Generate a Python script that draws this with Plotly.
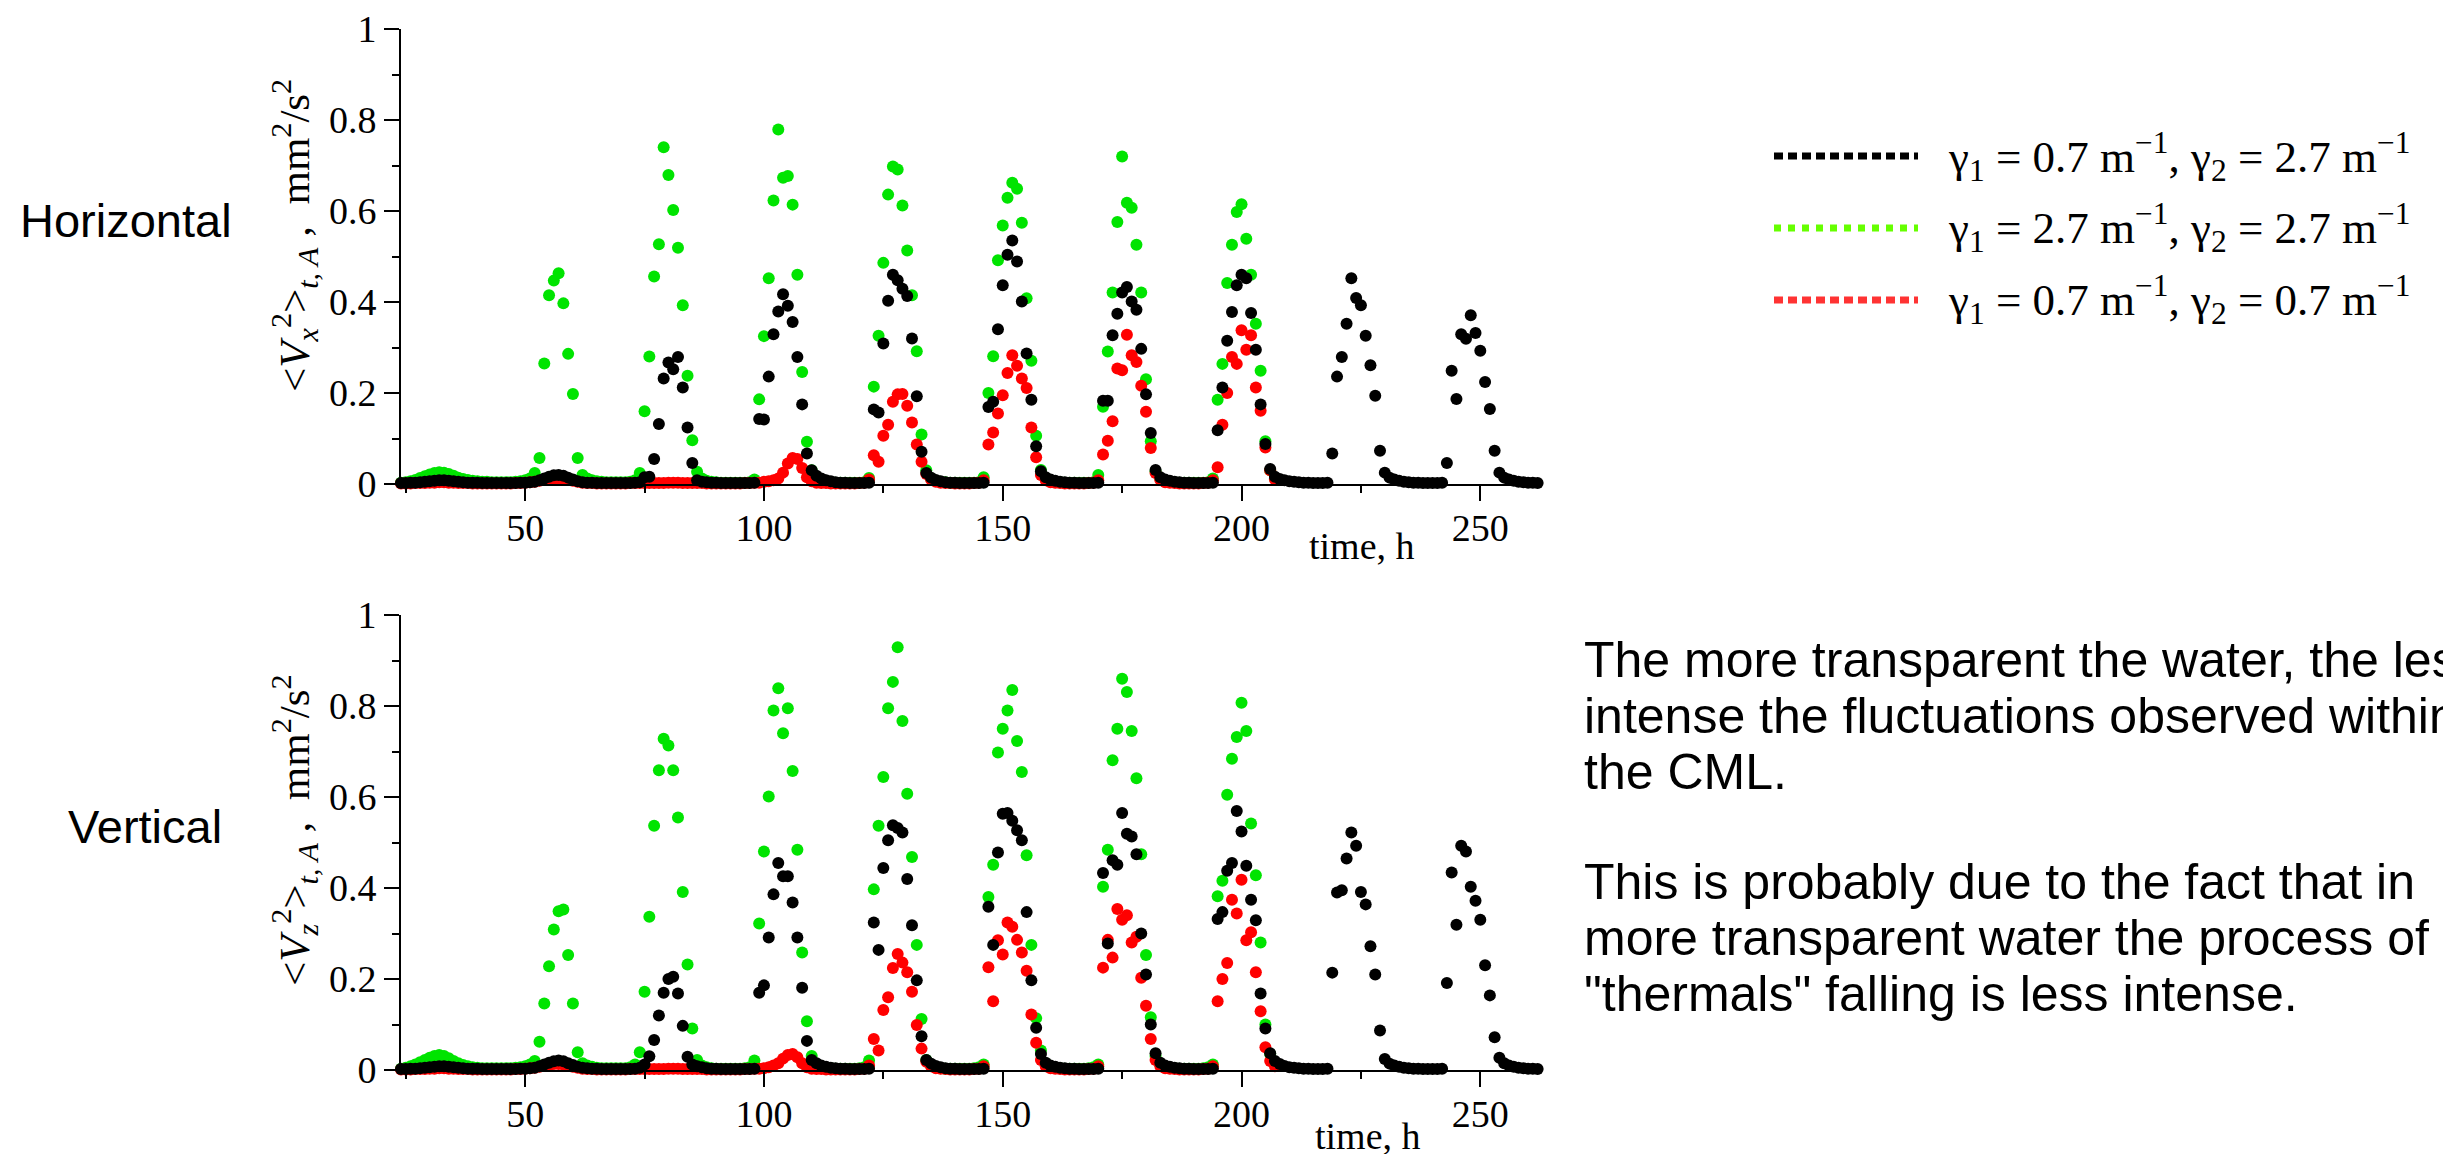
import plotly.graph_objects as go

W, H = 2451, 1154
T_START = 24  # first hourly sample (h)

# ---------------- Horizontal fluctuations <Vx^2> (hourly from t = 24 h) ----------------
H_black = [
    0.002, 0.002, 0.003, 0.003, 0.004, 0.005,
    0.006, 0.007, 0.008, 0.008, 0.007, 0.006, 0.005,
    0.004, 0.003, 0.003, 0.003, 0.002, 0.002, 0.002, 0.002, 0.002, 0.002, 0.002, 0.002, 0.003, 0.003, 0.004,
    0.005, 0.008, 0.012, 0.016, 0.019, 0.020, 0.018, 0.014, 0.010, 0.006, 0.004,
    0.003, 0.003, 0.002, 0.002, 0.002, 0.002, 0.002, 0.002, 0.002, 0.002, 0.003, 0.004,
    0.015, 0.016, 0.055, 0.132, 0.232, 0.267, 0.252, 0.279, 0.212, 0.124, 0.046, 0.008,
    0.005, 0.004, 0.003, 0.003, 0.002, 0.002, 0.002, 0.002, 0.002, 0.002, 0.002, 0.003,
    0.143, 0.142, 0.236, 0.329, 0.379, 0.417, 0.392, 0.356, 0.279, 0.175, 0.067, 0.030,
    0.018, 0.012, 0.008, 0.006, 0.004, 0.003, 0.003, 0.002, 0.002, 0.002, 0.002, 0.003,
    0.164, 0.157, 0.309, 0.403, 0.460, 0.448, 0.429, 0.413, 0.320, 0.193, 0.071, 0.024, 0.014,
    0.009, 0.006, 0.004, 0.003, 0.003, 0.002, 0.002, 0.002, 0.002, 0.002, 0.003,
    0.169, 0.181, 0.340, 0.437, 0.504, 0.535, 0.489, 0.401, 0.287, 0.185, 0.083, 0.028, 0.015,
    0.010, 0.007, 0.005, 0.004, 0.003, 0.003, 0.002, 0.002, 0.002, 0.002, 0.003,
    0.183, 0.183, 0.327, 0.374, 0.421, 0.433, 0.401, 0.383, 0.297, 0.197, 0.112, 0.031, 0.015,
    0.010, 0.007, 0.005, 0.004, 0.003, 0.003, 0.002, 0.002, 0.002, 0.002, 0.003,
    0.118, 0.212, 0.315, 0.378, 0.437, 0.460, 0.452, 0.376, 0.295, 0.175, 0.088, 0.033, 0.016,
    0.011, 0.008, 0.006, 0.005, 0.004, 0.003, 0.003, 0.002, 0.002, 0.002, 0.003,
    0.067, 0.236, 0.279, 0.352, 0.452, 0.409, 0.393, 0.326, 0.261, 0.194, 0.073, 0.025, 0.014,
    0.010, 0.007, 0.005, 0.004, 0.003, 0.003, 0.002, 0.002, 0.002, 0.002, 0.003,
    0.046, 0.249, 0.187, 0.329, 0.319, 0.371, 0.332, 0.293, 0.224, 0.165, 0.073, 0.025, 0.014,
    0.010, 0.007, 0.005, 0.004, 0.003, 0.003, 0.002,
]
H_green = [
    0.003, 0.004, 0.006, 0.009, 0.013, 0.017,
    0.021, 0.024, 0.026, 0.025, 0.022, 0.018, 0.014,
    0.011, 0.009, 0.007, 0.006, 0.005, 0.005, 0.004, 0.004, 0.004, 0.004, 0.004, 0.005, 0.006, 0.008, 0.012,
    0.024, 0.057, 0.265, 0.415, 0.447, 0.463, 0.397, 0.286, 0.198, 0.057, 0.020,
    0.012, 0.008, 0.006, 0.005, 0.004, 0.004, 0.004, 0.004, 0.004, 0.005, 0.008, 0.024,
    0.160, 0.280, 0.456, 0.527, 0.740, 0.679, 0.602, 0.519, 0.393, 0.238, 0.096, 0.027,
    0.012, 0.007, 0.005, 0.004, 0.003, 0.003, 0.003, 0.003, 0.003, 0.003, 0.004, 0.010,
    0.186, 0.325, 0.452, 0.623, 0.779, 0.673, 0.677, 0.614, 0.460, 0.246, 0.093, 0.030,
    0.013, 0.008, 0.005, 0.004, 0.003, 0.003, 0.003, 0.003, 0.003, 0.003, 0.004, 0.013,
    0.214, 0.326, 0.486, 0.636, 0.698, 0.691, 0.612, 0.513, 0.415, 0.292, 0.109, 0.030, 0.012,
    0.007, 0.005, 0.004, 0.003, 0.003, 0.003, 0.003, 0.003, 0.003, 0.004, 0.015,
    0.200, 0.281, 0.492, 0.568, 0.629, 0.662, 0.649, 0.574, 0.408, 0.271, 0.106, 0.031, 0.013,
    0.008, 0.005, 0.004, 0.003, 0.003, 0.003, 0.003, 0.003, 0.003, 0.004, 0.020,
    0.170, 0.291, 0.421, 0.576, 0.720, 0.618, 0.607, 0.526, 0.421, 0.230, 0.094, 0.028, 0.012,
    0.007, 0.005, 0.004, 0.003, 0.003, 0.003, 0.003, 0.003, 0.003, 0.004, 0.012,
    0.185, 0.264, 0.442, 0.526, 0.598, 0.615, 0.539, 0.460, 0.352, 0.249, 0.094, 0.030, 0.012,
]
H_red = [
    0.001, 0.001, 0.001, 0.002, 0.002, 0.002,
    0.003, 0.003, 0.004, 0.004, 0.003, 0.003, 0.002,
    0.002, 0.002, 0.001, 0.001, 0.001, 0.001, 0.001, 0.001, 0.001, 0.001, 0.001, 0.002, 0.002, 0.003, 0.004,
    0.005, 0.007, 0.009, 0.011, 0.012, 0.012, 0.011, 0.009, 0.007, 0.005, 0.003,
    0.002, 0.002, 0.001, 0.001, 0.001, 0.001, 0.001, 0.001, 0.001, 0.002, 0.002, 0.002,
    0.002, 0.002, 0.002, 0.002, 0.002, 0.003, 0.003, 0.003, 0.002, 0.002, 0.002, 0.002,
    0.002, 0.001, 0.001, 0.001, 0.001, 0.001, 0.001, 0.001, 0.001, 0.002, 0.002, 0.003,
    0.003, 0.005, 0.006, 0.008, 0.012, 0.025, 0.045, 0.057, 0.055, 0.035, 0.015, 0.006,
    0.003, 0.002, 0.002, 0.001, 0.001, 0.001, 0.001, 0.001, 0.001, 0.002, 0.003, 0.010,
    0.063, 0.049, 0.106, 0.130, 0.181, 0.197, 0.198, 0.172, 0.135, 0.087, 0.049, 0.022, 0.010,
    0.005, 0.003, 0.002, 0.002, 0.001, 0.001, 0.001, 0.001, 0.002, 0.003, 0.008,
    0.087, 0.113, 0.155, 0.195, 0.244, 0.283, 0.260, 0.232, 0.211, 0.124, 0.059, 0.020, 0.008,
    0.004, 0.003, 0.002, 0.001, 0.001, 0.001, 0.001, 0.001, 0.002, 0.003, 0.008,
    0.065, 0.095, 0.138, 0.254, 0.250, 0.328, 0.283, 0.268, 0.216, 0.159, 0.079, 0.024, 0.009,
    0.004, 0.003, 0.002, 0.001, 0.001, 0.001, 0.001, 0.001, 0.002, 0.003, 0.008,
    0.037, 0.130, 0.200, 0.279, 0.264, 0.338, 0.295, 0.327, 0.212, 0.161, 0.080, 0.030, 0.010,
]

# ---------------- Vertical fluctuations <Vz^2> (hourly from t = 24 h) ----------------
V_black = [
    0.002, 0.002, 0.003, 0.003, 0.004, 0.005,
    0.006, 0.007, 0.008, 0.008, 0.007, 0.006, 0.005,
    0.004, 0.003, 0.003, 0.003, 0.002, 0.002, 0.002, 0.002, 0.002, 0.002, 0.002, 0.002, 0.003, 0.003, 0.004,
    0.005, 0.008, 0.012, 0.016, 0.019, 0.021, 0.019, 0.015, 0.011, 0.007, 0.005,
    0.004, 0.003, 0.003, 0.002, 0.002, 0.002, 0.002, 0.002, 0.002, 0.002, 0.003, 0.005,
    0.012, 0.030, 0.066, 0.120, 0.170, 0.200, 0.205, 0.168, 0.097, 0.029, 0.012, 0.008,
    0.006, 0.004, 0.003, 0.003, 0.002, 0.002, 0.002, 0.002, 0.002, 0.002, 0.002, 0.003,
    0.170, 0.186, 0.291, 0.386, 0.455, 0.426, 0.426, 0.368, 0.291, 0.181, 0.064, 0.022,
    0.015, 0.010, 0.007, 0.005, 0.004, 0.003, 0.003, 0.002, 0.002, 0.002, 0.002, 0.003,
    0.324, 0.264, 0.444, 0.505, 0.538, 0.532, 0.522, 0.420, 0.318, 0.197, 0.074, 0.022, 0.014,
    0.009, 0.006, 0.004, 0.003, 0.003, 0.002, 0.002, 0.002, 0.002, 0.002, 0.003,
    0.359, 0.275, 0.478, 0.563, 0.565, 0.548, 0.527, 0.505, 0.347, 0.197, 0.093, 0.035, 0.016,
    0.010, 0.007, 0.005, 0.004, 0.003, 0.003, 0.002, 0.002, 0.002, 0.002, 0.003,
    0.433, 0.278, 0.461, 0.451, 0.565, 0.519, 0.513, 0.474, 0.300, 0.210, 0.100, 0.037, 0.016,
    0.010, 0.007, 0.005, 0.004, 0.003, 0.003, 0.002, 0.002, 0.002, 0.002, 0.003,
    0.332, 0.347, 0.438, 0.455, 0.569, 0.524, 0.449, 0.374, 0.329, 0.168, 0.091, 0.037, 0.020,
    0.013, 0.009, 0.006, 0.005, 0.004, 0.003, 0.003, 0.002, 0.002, 0.002, 0.003,
    0.214, 0.390, 0.395, 0.465, 0.522, 0.493, 0.391, 0.364, 0.272, 0.210, 0.087, 0.024, 0.014,
    0.010, 0.007, 0.005, 0.004, 0.003, 0.003, 0.002, 0.002, 0.002, 0.002, 0.003,
    0.191, 0.434, 0.319, 0.493, 0.480, 0.403, 0.372, 0.330, 0.230, 0.164, 0.072, 0.027, 0.015,
    0.010, 0.007, 0.005, 0.004, 0.003, 0.003, 0.002,
]
V_green = [
    0.003, 0.005, 0.008, 0.012, 0.017, 0.022,
    0.027, 0.031, 0.033, 0.031, 0.026, 0.020, 0.015,
    0.011, 0.008, 0.006, 0.005, 0.004, 0.004, 0.004, 0.004, 0.004, 0.004, 0.004, 0.005, 0.006, 0.008, 0.012,
    0.020, 0.062, 0.146, 0.228, 0.309, 0.349, 0.353, 0.253, 0.146, 0.039, 0.015,
    0.010, 0.007, 0.005, 0.004, 0.004, 0.004, 0.004, 0.004, 0.004, 0.006, 0.012, 0.039,
    0.172, 0.337, 0.537, 0.659, 0.728, 0.713, 0.659, 0.555, 0.391, 0.232, 0.091, 0.022,
    0.010, 0.006, 0.004, 0.003, 0.003, 0.003, 0.003, 0.003, 0.003, 0.004, 0.006, 0.021,
    0.322, 0.480, 0.601, 0.790, 0.839, 0.740, 0.795, 0.657, 0.484, 0.258, 0.107, 0.031,
    0.013, 0.008, 0.005, 0.004, 0.003, 0.003, 0.003, 0.003, 0.003, 0.004, 0.006, 0.021,
    0.397, 0.537, 0.644, 0.795, 0.853, 0.929, 0.767, 0.607, 0.468, 0.275, 0.112, 0.022, 0.010,
    0.006, 0.004, 0.003, 0.003, 0.003, 0.003, 0.003, 0.003, 0.004, 0.006, 0.012,
    0.380, 0.451, 0.698, 0.750, 0.790, 0.835, 0.723, 0.655, 0.472, 0.275, 0.114, 0.043, 0.015,
    0.008, 0.005, 0.004, 0.003, 0.003, 0.003, 0.003, 0.003, 0.004, 0.006, 0.012,
    0.403, 0.484, 0.681, 0.750, 0.860, 0.831, 0.745, 0.641, 0.474, 0.253, 0.116, 0.031, 0.012,
    0.007, 0.005, 0.004, 0.003, 0.003, 0.003, 0.003, 0.003, 0.004, 0.006, 0.012,
    0.382, 0.416, 0.605, 0.684, 0.732, 0.807, 0.745, 0.542, 0.428, 0.280, 0.100, 0.035, 0.013,
]
V_red = [
    0.001, 0.001, 0.001, 0.002, 0.002, 0.002,
    0.003, 0.003, 0.004, 0.004, 0.003, 0.003, 0.002,
    0.002, 0.002, 0.001, 0.001, 0.001, 0.001, 0.001, 0.001, 0.001, 0.001, 0.001, 0.002, 0.002, 0.003, 0.004,
    0.005, 0.007, 0.009, 0.011, 0.013, 0.013, 0.012, 0.010, 0.007, 0.005, 0.003,
    0.002, 0.002, 0.001, 0.001, 0.001, 0.001, 0.001, 0.001, 0.001, 0.002, 0.002, 0.002,
    0.002, 0.002, 0.002, 0.002, 0.002, 0.003, 0.003, 0.003, 0.002, 0.002, 0.002, 0.002,
    0.002, 0.001, 0.001, 0.001, 0.001, 0.001, 0.001, 0.001, 0.001, 0.002, 0.002, 0.003,
    0.003, 0.004, 0.006, 0.010, 0.015, 0.025, 0.033, 0.035, 0.028, 0.015, 0.006, 0.003,
    0.002, 0.002, 0.001, 0.001, 0.001, 0.001, 0.001, 0.001, 0.001, 0.002, 0.003, 0.010,
    0.068, 0.043, 0.132, 0.160, 0.224, 0.255, 0.236, 0.215, 0.172, 0.099, 0.047, 0.018, 0.008,
    0.004, 0.003, 0.002, 0.001, 0.001, 0.001, 0.001, 0.001, 0.002, 0.003, 0.008,
    0.226, 0.151, 0.285, 0.254, 0.324, 0.315, 0.286, 0.258, 0.218, 0.122, 0.060, 0.022, 0.008,
    0.004, 0.003, 0.002, 0.001, 0.001, 0.001, 0.001, 0.001, 0.002, 0.003, 0.008,
    0.225, 0.286, 0.247, 0.354, 0.330, 0.340, 0.280, 0.293, 0.203, 0.141, 0.068, 0.022, 0.008,
    0.004, 0.003, 0.002, 0.001, 0.001, 0.001, 0.001, 0.001, 0.002, 0.003, 0.008,
    0.151, 0.200, 0.235, 0.374, 0.344, 0.418, 0.285, 0.303, 0.215, 0.129, 0.050, 0.020, 0.008,
]

X_TICKS = [50, 100, 150, 200, 250]
Y_TICKS = [0, 0.2, 0.4, 0.6, 0.8, 1]
LEGEND_LABELS = [
    "γ<sub>1</sub> = 0.7 m<sup>−1</sup>, γ<sub>2</sub> = 2.7 m<sup>−1</sup>",
    "γ<sub>1</sub> = 2.7 m<sup>−1</sup>, γ<sub>2</sub> = 2.7 m<sup>−1</sup>",
    "γ<sub>1</sub> = 0.7 m<sup>−1</sup>, γ<sub>2</sub> = 0.7 m<sup>−1</sup>",
]
PARAGRAPH = [
    "The more transparent the water, the less",
    "intense the fluctuations observed within",
    "the CML.",
    "This is probably due to the fact that in",
    "more transparent water the process of",
    "\"thermals\" falling is less intense.",
]

C_BLACK, C_GREEN, C_RED = "#000000", "#00e400", "#ff0000"
SERIF = "Liberation Serif"
SANS = "Liberation Sans"


def hours(vals):
    return list(range(T_START, T_START + len(vals)))


def px(x):
    return x / W


def py(y):
    return 1 - y / H


fig = go.Figure()
for vals, col, xa, ya in [
    (H_green, C_GREEN, "x", "y"), (H_red, C_RED, "x", "y"), (H_black, C_BLACK, "x", "y"),
    (V_green, C_GREEN, "x2", "y2"), (V_red, C_RED, "x2", "y2"), (V_black, C_BLACK, "x2", "y2"),
]:
    fig.add_trace(go.Scatter(
        x=hours(vals), y=vals, mode="markers", xaxis=xa, yaxis=ya,
        marker=dict(color=col, size=12, line=dict(width=0)),
        cliponaxis=False, showlegend=False, hoverinfo="skip"))

tickfont = dict(family=SERIF, size=38, color="black")
common = dict(showline=True, linecolor="black", linewidth=2, showgrid=False, zeroline=False,
              automargin=False, ticks="outside", ticklen=15, tickwidth=2, tickcolor="black",
              tickfont=tickfont)
xdom = [px(393), px(1532)]
xcfg = dict(common, range=[24, 262.5], tickvals=X_TICKS, ticklabelstandoff=-6,
            minor=dict(ticks="outside", ticklen=7, tickwidth=2, tickcolor="black", dtick=25, tick0=0))
ycfg = dict(common, range=[0, 1], tickvals=Y_TICKS, ticktext=[f"{v:g}" for v in Y_TICKS],
            minor=dict(ticks="outside", ticklen=7, tickwidth=2, tickcolor="black", dtick=0.1, tick0=0))

fig.update_layout(
    width=W, height=H, margin=dict(l=0, r=0, t=0, b=0, autoexpand=False),
    paper_bgcolor="white", plot_bgcolor="white",
    xaxis=dict(xcfg, domain=xdom, anchor="y"),
    yaxis=dict(ycfg, domain=[py(476), py(21)], anchor="x"),
    xaxis2=dict(xcfg, domain=xdom, anchor="y2"),
    yaxis2=dict(ycfg, domain=[py(1062), py(607)], anchor="x2"),
)

ann = []
ytitle = "<<i>V</i><sub><i>%s</i></sub><sup>2</sup>><sub><i>t, A</i></sub> ,  mm<sup>2</sup>/s<sup>2</sup>"
ann.append(dict(x=px(286), y=py(228), text=ytitle % "x", textangle=-90))
ann.append(dict(x=px(286), y=py(822), text=ytitle % "z", textangle=-90))
for a in ann:
    a.update(xref="paper", yref="paper", showarrow=False, xanchor="center", yanchor="middle",
             font=dict(family=SERIF, size=43, color="black"))
ann.append(dict(x=px(1354), y=py(538), text="time, h"))
ann.append(dict(x=px(1360), y=py(1128), text="time, h"))
for a in ann[2:]:
    a.update(xref="paper", yref="paper", showarrow=False, xanchor="center", yanchor="middle",
             font=dict(family=SERIF, size=38, color="black"))

for txt, x, y in [("Horizontal", 118, 212), ("Vertical", 137, 818)]:
    ann.append(dict(x=px(x), y=py(y), text=txt, xref="paper", yref="paper", showarrow=False,
                    xanchor="center", yanchor="middle", font=dict(family=SANS, size=47, color="black")))

for txt, y in zip(PARAGRAPH, [652, 708, 764, 874, 930, 986]):
    ann.append(dict(x=px(1574), y=py(y), text=txt, xref="paper", yref="paper", showarrow=False,
                    xanchor="left", yanchor="middle", font=dict(family=SANS, size=50, color="black")))

shapes = []
for lab, y, col, dash in zip(LEGEND_LABELS, [148, 220, 292],
                             ["#000000", "#66ff00", "#ff3333"],
                             ["9px,5px", "7px,7px", "9px,5px"]):
    shapes.append(dict(type="line", xref="paper", yref="paper", x0=px(1766), x1=px(1910),
                       y0=py(y), y1=py(y), line=dict(color=col, width=7, dash=dash)))
    ann.append(dict(x=px(1938), y=py(y), text=lab, xref="paper", yref="paper", showarrow=False,
                    xanchor="left", yanchor="middle", font=dict(family=SERIF, size=45, color="black")))

fig.update_layout(annotations=ann, shapes=shapes)
fig.write_html("out.html")
